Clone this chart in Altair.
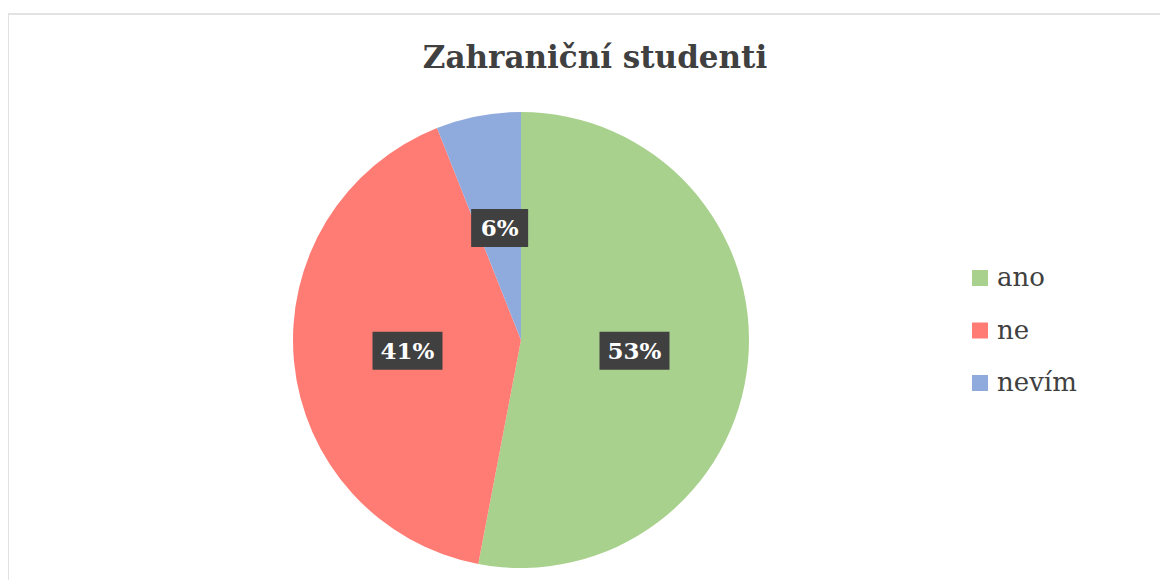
import altair as alt
import pandas as pd

categories = ["ano", "ne", "nevím"]
values = [53, 41, 6]
labels = ["53%", "41%", "6%"]
colors = ["#a9d18e", "#ff7c74", "#8faadc"]
title_text = "Zahraniční studenti"

SERIF = "DejaVu Serif"

W, H = 1152, 572
CX, CY, R = 513, 332, 228
LR = 114

df = pd.DataFrame({"cat": categories, "value": values, "label": labels,
                   "idx": list(range(len(categories)))})

base = alt.Chart(df)

pie = base.mark_arc(outerRadius=R).encode(
    theta=alt.Theta("value:Q", stack=True),
    order=alt.Order("idx:Q"),
    color=alt.Color(
        "cat:N",
        scale=alt.Scale(domain=categories, range=colors),
        sort=categories,
        legend=alt.Legend(
            title=None, orient="none", legendX=959, legendY=257,
            symbolType="square", symbolSize=256, symbolStrokeWidth=0,
            labelFont=SERIF, labelFontSize=26, labelColor="#404040",
            rowPadding=26.5, labelOffset=4, labelLimit=300,
        ),
    ),
    x=alt.value(CX),
    y=alt.value(CY),
)

pos = base.transform_window(
    cum="sum(value)", sort=[alt.SortField("idx")], frame=[None, 0]
).transform_joinaggregate(total="sum(value)").transform_calculate(
    mid="(datum.cum - datum.value/2) / datum.total * 2 * PI",
    px=f"{CX} + {LR} * sin(datum.mid)",
    py=f"{CY} - {LR} * cos(datum.mid)",
    bw="length(datum.label) * 13 + 31",
    x1="datum.px - datum.bw/2",
    x2="datum.px + datum.bw/2",
    y1="datum.py - 19",
    y2="datum.py + 19",
)

boxes = pos.mark_rect(color="#404040").encode(
    x=alt.X("x1:Q", scale=None),
    x2="x2:Q",
    y=alt.Y("y1:Q", scale=None),
    y2="y2:Q",
)

texts = pos.mark_text(
    font=SERIF, fontSize=23, fontWeight="bold", color="white",
    baseline="middle", align="center", dy=1,
).encode(
    x=alt.X("px:Q", scale=None),
    y=alt.Y("py:Q", scale=None),
    text="label:N",
)

title = alt.Chart(pd.DataFrame({"t": [title_text]})).mark_text(
    font=SERIF, fontSize=31, fontWeight="bold", color="#404040",
    align="center", baseline="alphabetic",
).encode(x=alt.value(587), y=alt.value(60), text="t:N")

border_top = alt.Chart(pd.DataFrame({"a": [0]})).mark_rule(
    color="#e2e2e2", strokeWidth=2
).encode(x=alt.value(0), x2=alt.value(W), y=alt.value(6))

border_left = alt.Chart(pd.DataFrame({"a": [0]})).mark_rule(
    color="#e2e2e2", strokeWidth=2
).encode(x=alt.value(0), y=alt.value(6), y2=alt.value(H))

chart = alt.layer(border_top, border_left, pie, boxes, texts, title).properties(
    width=W, height=H, padding=0, autosize=alt.AutoSizeParams(type="none"),
    background="white",
).configure_view(stroke=None)

chart.save("out.html", embed_options={"renderer": "svg", "actions": False})
